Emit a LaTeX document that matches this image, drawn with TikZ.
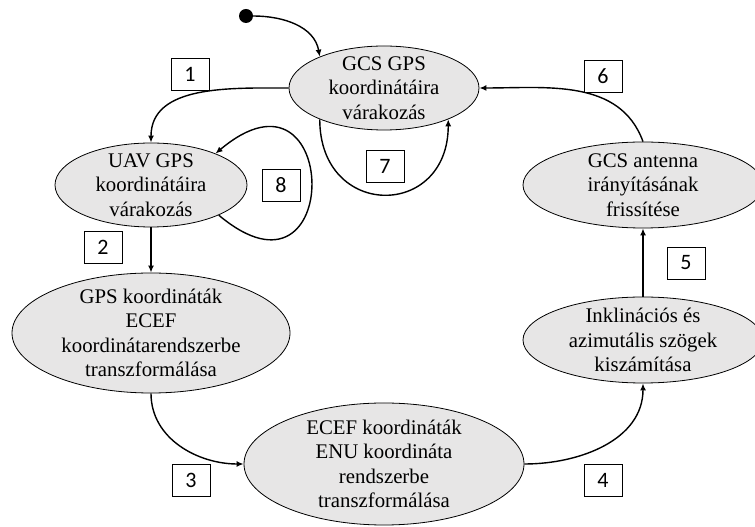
\documentclass[tikz,border=0pt]{standalone}
\usepackage{fontspec}
\setmainfont{Liberation Serif}
\newfontfamily\numfont{Carlito}
\usetikzlibrary{arrows.meta,shapes.geometric}
\definecolor{ellgray}{HTML}{E7E6E6}
\begin{document}
\begin{tikzpicture}[x=1pt,y=1pt,
  ell/.style={ellipse, draw=black, line width=0.8pt, fill=ellgray, inner sep=0pt},
  txt/.style={align=center, font=\fontsize{20.8}{24.5}\selectfont, inner sep=0pt},
  numbox/.style={draw=black, line width=0.8pt, fill=white, minimum width=38pt, minimum height=32pt, inner sep=0pt, font=\numfont\fontsize{22}{24}\selectfont},
  conn/.style={line width=1.4pt, -{Latex[length=7pt,width=6pt]}}]
\useasboundingbox (0,0) rectangle (755,527);

% states
\node[ell, minimum width=190pt, minimum height=84pt] (gcs) at (384,439) {};
\node[txt] at (gcs) {GCS GPS\\koordinátáira\\várakozás};
\node[ell, minimum width=192pt, minimum height=84pt] (uav) at (151,342) {};
\node[txt] at (uav) {UAV GPS\\koordinátáira\\várakozás};
\node[ell, minimum width=278pt, minimum height=120pt] (gps) at (151,194) {};
\node[txt] at (gps) {GPS koordináták\\ECEF\\koordinátarendszerbe\\transzformálása};
\node[ell, minimum width=280pt, minimum height=122pt] (ecef) at (384,63) {};
\node[txt] at (ecef) {ECEF koordináták\\ENU koordináta\\rendszerbe\\transzformálása};
\node[ell, minimum width=240pt, minimum height=86pt] (inkl) at (643,187) {};
\node[txt] at (inkl) {Inklinációs és\\azimutális szögek\\kiszámítása};
\node[ell, minimum width=240pt, minimum height=86pt] (ant) at (643,342) {};
\node[txt] at (ant) {GCS antenna\\irányításának\\frissítése};

\node[circle, fill=black, minimum size=14pt, inner sep=0pt] (start) at (246,511) {};

% connectors
\draw[conn] (start) to[out=0,in=100] (gcs.154);
\draw[conn] (gcs.180) to[out=180,in=90] (uav.90);
\draw[conn] (uav.336) .. controls +(-40:164) and +(40:164) .. (uav.26);
\draw[conn] (uav.270) -- (gps.90);
\draw[conn] (gps.270) to[out=-90,in=180] (ecef.180);
\draw[conn] (ecef.0) to[out=0,in=-90] (inkl.270);
\draw[conn] (inkl.90) -- (ant.270);
\draw[conn] (ant.90) to[out=110,in=0] (gcs.0);
\draw[conn] (gcs.206) to[out=-90,in=-90,looseness=2] (gcs.334);

% step numbers
\node[numbox] (n1) at (190,453) {1};
\node[numbox] (n2) at (103,280) {2};
\node[numbox] (n3) at (191,47) {3};
\node[numbox] (n4) at (603,47) {4};
\node[numbox] (n5) at (686,264) {5};
\node[numbox] (n6) at (603,451) {6};
\node[numbox] (n7) at (385,361) {7};
\node[numbox] (n8) at (281,342) {8};
\end{tikzpicture}
\end{document}
